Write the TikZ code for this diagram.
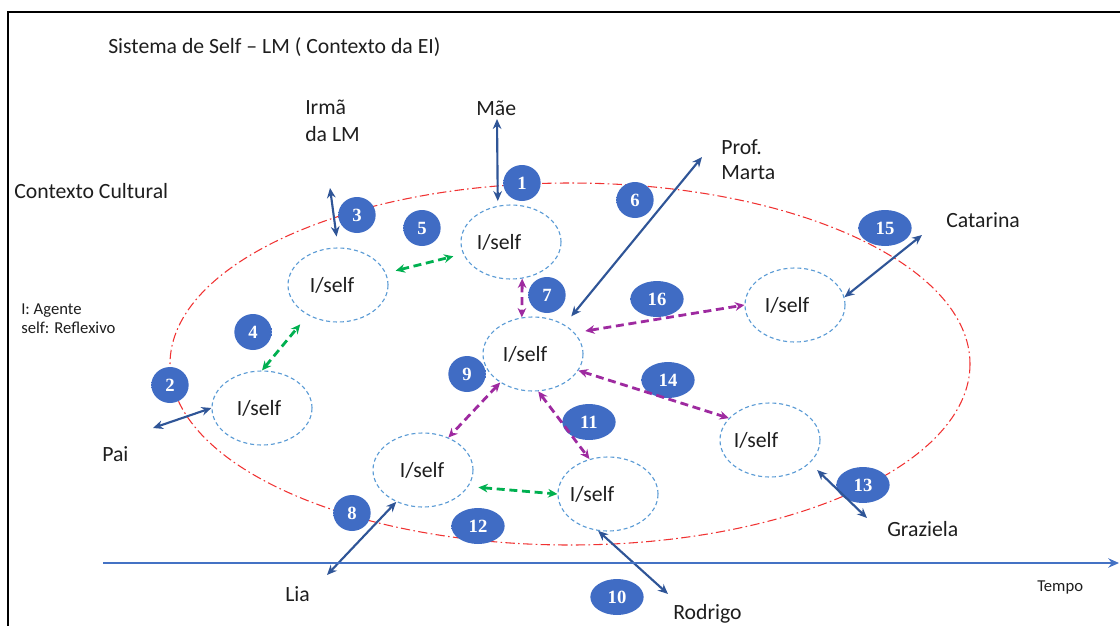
\documentclass[tikz,border=0pt]{standalone}
\usepackage{fontspec}
\setmainfont{Carlito}
\newfontfamily\numfont{Liberation Serif}
\usetikzlibrary{arrows.meta,shapes.geometric}

\definecolor{navyarrow}{RGB}{47,85,151}
\definecolor{arrgreen}{RGB}{0,176,80}
\definecolor{arrpurple}{RGB}{158,42,160}
\definecolor{selfblue}{RGB}{91,155,213}
\definecolor{ctxred}{RGB}{240,50,50}
\definecolor{timeblue}{RGB}{68,114,196}
\definecolor{badgeblue}{RGB}{64,108,196}
\definecolor{txt}{RGB}{30,30,30}

% solid blue disc fading softly to white at its rim
\pgfdeclareradialshading{badgeglow}{\pgfpoint{0bp}{0bp}}{%
  color(0bp)=(badgeblue); color(31bp)=(badgeblue); color(40bp)=(badgeblue!55!white); color(50bp)=(white)}

\begin{document}
\begin{tikzpicture}[x=0.75pt,y=-0.75pt,
  lbl/.style={font=\fontsize{16.3}{19}\selectfont, text=txt, inner sep=0pt, anchor=base west},
  smalllbl/.style={lbl, font=\fontsize{12.5}{15}\selectfont},
  selftext/.style={font=\fontsize{16.3}{19}\selectfont, text=txt, inner sep=0pt},
  selfnode/.style={ellipse, draw=selfblue, line width=0.85pt, dash pattern=on 3pt off 2.2pt,
    minimum width=75pt, minimum height=55.5pt, inner sep=0pt,
    label={[selftext, xshift=#1*0.75pt]center:I/self}},
  selfnode/.default=0,
  badge/.style={ellipse, shade, shading=badgeglow, inner sep=0pt,
    minimum width=28pt, minimum height=27pt, text=white,
    font=\numfont\bfseries\fontsize{14}{14}\selectfont},
  widebadge/.style={badge, minimum width=40pt},
  bluearr/.style={draw=navyarrow, line width=1.6pt, {Stealth[length=7.5pt,width=6.5pt]}-{Stealth[length=7.5pt,width=6.5pt]}},
  greenarr/.style={draw=arrgreen, line width=2.1pt, dash pattern=on 6pt off 3.5pt,
    {Stealth[length=7pt,width=6.5pt]}-{Stealth[length=7pt,width=6.5pt]}},
  purplearr/.style={draw=arrpurple, line width=2.1pt, dash pattern=on 6pt off 3.5pt,
    {Stealth[length=7pt,width=6.5pt]}-{Stealth[length=7pt,width=6.5pt]}},
]
\useasboundingbox (0,0) rectangle (1120,625);

% outer frame
\draw[line width=1.6pt, line join=miter] (8,630) -- (8,12) -- (1125,12);

% cultural context boundary
\draw[ctxred, line width=0.8pt, dash pattern=on 7pt off 2.5pt on 1.2pt off 2.5pt]
  (570,364) ellipse [x radius=400, y radius=181];

% numbered markers
\node[badge] (b1) at (522,183) {1};
\node[badge] (b2) at (170,385) {2};
\node[badge] (b3) at (357,215) {3};
\node[badge] (b4) at (253,332) {4};
\node[badge] (b5) at (422,228) {5};
\node[badge] (b6) at (635,200) {6};
\node[badge] (b7) at (547,295) {7};
\node[badge] (b8) at (352,513) {8};
\node[badge] (b9) at (467,374) {9};
\node[widebadge] (b10) at (617,597) {10};
\node[widebadge] (b11) at (589,422) {11};
\node[widebadge] (b12) at (478,526) {12};
\node[widebadge] (b13) at (863,485) {13};
\node[widebadge] (b14) at (668,380) {14};
\node[widebadge] (b15) at (885,228) {15};
\node[widebadge] (b16) at (657,299) {16};

% I/self positions
\node[selfnode=-12] (e1) at (511,242) {};
\node[selfnode=-6]  (e2) at (338,285) {};
\node[selfnode=-3]  (e3) at (262,408) {};
\node[selfnode=-8]  (e4) at (533,354) {};
\node[selfnode=-8]  (e5) at (795,305) {};
\node[selfnode=-14] (e6) at (770,440) {};
\node[selfnode=-1]  (e7) at (423,470) {};
\node[selfnode=-16] (e8) at (608,494) {};

% outer ends of the blue connectors
\coordinate (mae) at (497,119);
\coordinate (irma) at (330,188);
\coordinate (pai) at (153,428);
\coordinate (marta) at (702,157);
\coordinate (catarina) at (922,235);
\coordinate (graziela) at (867,518);
\coordinate (lia) at (327,575);
\coordinate (rodrigo) at (668,594);

% dialogues with others
\draw[bluearr, shorten >=3.5pt] (mae) -- (e1.110);
\draw[bluearr, shorten >=8.25pt] (irma) -- (e2.north);
\draw[bluearr] (pai) -- (e3.west);
\draw[bluearr, shorten >=8pt] (marta) -- (e4.43);
\draw[bluearr] (catarina) -- (e5.9);
\draw[bluearr, shorten <=7.5pt] (e6.-30) -- (graziela);
\draw[bluearr] (lia) -- (e7.230);
\draw[bluearr] (e8.-105) -- (rodrigo);

% internal dialogues
\draw[greenarr, shorten <=7.5pt, shorten >=7.5pt] (e2) -- (e1);
\draw[greenarr, shorten >=9pt] (e3.north) -- (e2.225);
\draw[greenarr, shorten <=7.5pt] (e7.-20) -- (e8.west);
\draw[purplearr] (e1.-73) -- (e4.107);
\draw[purplearr, shorten <=8pt] (e4.27) -- (e5.west);
\draw[purplearr] (e4.-20) -- (e6.152);
\draw[purplearr] (e4.221) -- (e7.52);
\draw[purplearr] (e4.-82) -- (e8.118);

% time axis
\coordinate (t0) at (103,563);
\coordinate (t1) at (1119,563);
\draw[timeblue, line width=2.2pt, -{Stealth[length=8pt,width=7pt]}] (t0) -- (t1);

% texts
\node[lbl] (title) at (108,53) {Sistema de Self – LM ( Contexto da EI)};
\node[lbl] (irma1) at (305,114) {Irmã};
\node[lbl] (irma2) at (305,141) {da LM};
\node[lbl] (maelbl) at (476,115) {Mãe};
\node[lbl] (prof1) at (721,154) {Prof.};
\node[lbl] (prof2) at (721,179) {Marta};
\node[lbl] (ctx) at (14,198) {Contexto Cultural};
\node[lbl] (catlbl) at (946,227) {Catarina};
\node[smalllbl] (ag1) at (21,314) {I: Agente};
\node[smalllbl] (ag2) at (21,333) {self: Reflexivo};
\node[lbl] (pailbl) at (102,461) {Pai};
\node[lbl] (grazlbl) at (887,536) {Graziela};
\node[lbl] (lialbl) at (285,601) {Lia};
\node[lbl] (rodlbl) at (673,619) {Rodrigo};
\node[smalllbl] (tempo) at (1037,591) {Tempo};
\end{tikzpicture}
\end{document}
